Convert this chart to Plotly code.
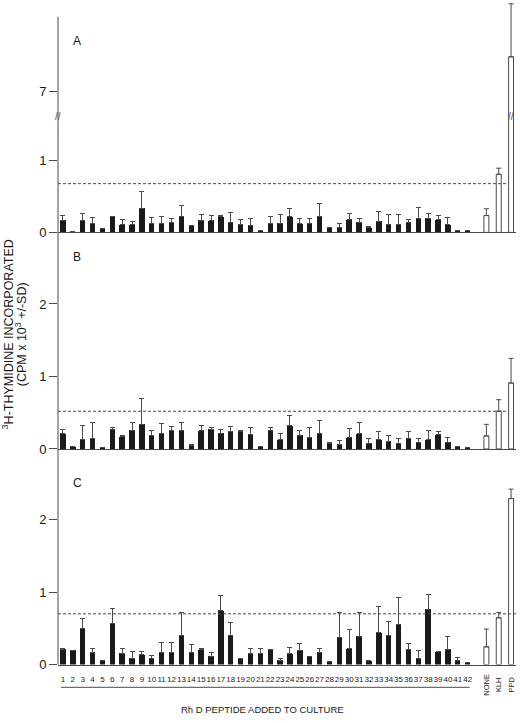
import plotly.graph_objects as go

# ---------------- data ----------------
peptides = [str(i) for i in range(1, 43)]
controls = ["NONE", "KLH", "PPD"]

A_vals = [0.17, 0.01, 0.17, 0.13, 0.06, 0.215, 0.11, 0.11, 0.34, 0.12,
          0.12, 0.14, 0.215, 0.10, 0.17, 0.165, 0.215, 0.14, 0.105, 0.095,
          0.03, 0.13, 0.13, 0.22, 0.12, 0.12, 0.22, 0.065, 0.075, 0.175,
          0.145, 0.065, 0.155, 0.11, 0.11, 0.14, 0.20, 0.20, 0.175, 0.105,
          0.02, 0.025]
A_sd = [0.07, 0.0, 0.10, 0.08, 0.0, 0.01, 0.07, 0.04, 0.23, 0.09,
        0.10, 0.05, 0.165, 0.0, 0.08, 0.075, 0.015, 0.135, 0.075, 0.095,
        0.0, 0.095, 0.12, 0.11, 0.07, 0.08, 0.19, 0.0, 0.045, 0.095,
        0.045, 0.015, 0.135, 0.14, 0.14, 0.035, 0.15, 0.06, 0.055, 0.105,
        0.0, 0.0]
A_ctrl = [0.235, 0.81, 9.0]
A_ctrl_sd = [0.095, 0.085, 3.1]
A_thr = 0.68

B_vals = [0.21, 0.03, 0.13, 0.14, 0.02, 0.27, 0.17, 0.26, 0.34, 0.19,
          0.22, 0.25, 0.26, 0.05, 0.25, 0.27, 0.22, 0.24, 0.24, 0.20,
          0.04, 0.25, 0.13, 0.32, 0.19, 0.16, 0.21, 0.08, 0.06, 0.155,
          0.21, 0.08, 0.13, 0.105, 0.07, 0.14, 0.09, 0.13, 0.195, 0.09,
          0.03, 0.02]
B_sd = [0.06, 0.0, 0.19, 0.22, 0.0, 0.03, 0.02, 0.10, 0.36, 0.06,
        0.13, 0.06, 0.10, 0.015, 0.08, 0.02, 0.05, 0.07, 0.01, 0.09,
        0.0, 0.04, 0.08, 0.14, 0.07, 0.14, 0.18, 0.005, 0.05, 0.125,
        0.16, 0.06, 0.115, 0.085, 0.07, 0.10, 0.06, 0.125, 0.045, 0.065,
        0.0, 0.0]
B_ctrl = [0.18, 0.52, 0.91]
B_ctrl_sd = [0.16, 0.16, 0.34]
B_thr = 0.52

C_vals = [0.21, 0.195, 0.50, 0.16, 0.05, 0.57, 0.155, 0.09, 0.135, 0.085,
          0.165, 0.165, 0.40, 0.17, 0.205, 0.115, 0.74, 0.40, 0.09, 0.15,
          0.15, 0.205, 0.06, 0.15, 0.195, 0.105, 0.17, 0.04, 0.37, 0.22,
          0.39, 0.05, 0.44, 0.40, 0.55, 0.21, 0.09, 0.76, 0.18, 0.21,
          0.06, 0.03]
C_sd = [0.01, 0.005, 0.13, 0.06, 0.0, 0.20, 0.065, 0.09, 0.045, 0.035,
        0.135, 0.135, 0.32, 0.11, 0.01, 0.05, 0.215, 0.18, 0.0, 0.07,
        0.07, 0.005, 0.025, 0.08, 0.10, 0.0, 0.05, 0.0, 0.35, 0.26,
        0.33, 0.0, 0.36, 0.19, 0.37, 0.08, 0.11, 0.20, 0.0, 0.18,
        0.035, 0.0]
C_ctrl = [0.245, 0.645, 2.29]
C_ctrl_sd = [0.245, 0.075, 0.13]
C_thr = 0.70

# ---------------- layout helpers ----------------
W, H = 520, 723
def py(px):
    return 1 - px / H
def pxx(px):
    return px / W

n = len(peptides)
pep_x = list(range(1, n + 1))
ctrl_x = [n + 1.9 + 1.25 * i for i in range(len(controls))]
XR = [0.5, 46.9]
XDOM = [pxx(58), pxx(516)]

FONT = "Arial, Liberation Sans, Helvetica, sans-serif"
INK = "#1a1a1a"
GREY = "#4a4a4a"

fig = go.Figure()

def add_panel(vals, sd, cvals, csd, xa, ya):
    fig.add_trace(go.Bar(
        x=pep_x, y=vals, width=0.55, xaxis=xa, yaxis=ya,
        marker=dict(color=INK, line=dict(width=0)),
        error_y=dict(type="data", array=sd, arrayminus=[0] * len(sd),
                     symmetric=False, thickness=1, width=2.5, color=GREY),
        showlegend=False, hoverinfo="skip"))
    fig.add_trace(go.Bar(
        x=ctrl_x, y=cvals, width=0.5, xaxis=xa, yaxis=ya,
        marker=dict(color="white", line=dict(width=1, color=GREY)),
        error_y=dict(type="data", array=csd, arrayminus=[0] * len(csd),
                     symmetric=False, thickness=1, width=2.5, color=GREY),
        showlegend=False, hoverinfo="skip"))

# C -> x/y, B -> x2/y2, A lower -> x3/y3, A upper -> x4/y4
add_panel(C_vals, C_sd, C_ctrl, C_ctrl_sd, "x", "y")
add_panel(B_vals, B_sd, B_ctrl, B_ctrl_sd, "x2", "y2")
add_panel(A_vals, A_sd, A_ctrl, A_ctrl_sd, "x3", "y3")
add_panel(A_vals, A_sd, A_ctrl, A_ctrl_sd, "x4", "y4")

def xax(anchor, show_labels, show_line):
    d = dict(domain=XDOM, range=XR, anchor=anchor, showgrid=False,
             zeroline=False, showline=show_line, linecolor=GREY, linewidth=1,
             ticks="", fixedrange=True)
    if show_labels:
        d.update(tickmode="array", tickvals=pep_x, ticktext=peptides,
                 tickangle=0,
                 tickfont=dict(family=FONT, size=8, color=INK),
                 ticklabelstandoff=7)
    else:
        d.update(showticklabels=False)
    return d

def yax(anchor, dom_px, rng, tickvals):
    return dict(domain=[py(dom_px[1]), py(dom_px[0])], range=rng, anchor=anchor,
                showgrid=False, zeroline=False, showline=False,
                tickmode="array", tickvals=tickvals,
                ticks="outside", ticklen=8, tickcolor=GREY, tickwidth=1,
                tickfont=dict(family=FONT, size=13, color=INK), fixedrange=True)

U = 73.3  # px per unit
fig.update_layout(
    width=W, height=H, margin=dict(l=0, r=0, t=0, b=0),
    paper_bgcolor="white", plot_bgcolor="white", bargap=0,
    xaxis=xax("y", True, True),
    xaxis2=xax("y2", False, True),
    xaxis3=xax("y3", False, True),
    xaxis4=xax("y4", False, False),
    yaxis=yax("x", (455, 672), [0, 217 / U], [0, 1, 2]),
    yaxis2=yax("x2", (236, 454), [0, 218 / U], [0, 1, 2]),
    yaxis3=yax("x3", (118, 235), [0, 117 / 72.5], [0, 1]),
    yaxis4=yax("x4", (3, 118), [5.5, 12.15], [7]),
)

# continuous vertical axis line
fig.add_shape(type="line", xref="paper", yref="paper",
              x0=pxx(58), x1=pxx(58), y0=py(672), y1=py(17),
              line=dict(color=GREY, width=1))

# dashed threshold lines
ppd_left = (ctrl_x[2] - 0.25 - XR[0]) / (XR[1] - XR[0])
for thr, xr, yr, x1 in [(A_thr, "x3", "y3", ppd_left),
                        (B_thr, "x2", "y2", ppd_left),
                        (C_thr, "x", "y", 1.0)]:
    fig.add_shape(type="line", xref=xr + " domain", yref=yr,
                  x0=0, x1=x1, y0=thr, y1=thr,
                  line=dict(color=GREY, width=1, dash="3px,2px"))

# underline below peptide numbers
fig.add_shape(type="line", xref="x", yref="paper",
              x0=pep_x[0] - 0.2, x1=pep_x[-1] + 0.2, y0=py(695), y1=py(695),
              line=dict(color=GREY, width=1))

ann = []
# axis break marks
for xr, xv in [("paper", pxx(58)), ("x3", ctrl_x[2])]:
    ann.append(dict(xref=xr, yref="paper", x=xv, y=py(118), text="//",
                    showarrow=False, font=dict(family=FONT, size=10, color=GREY),
                    xanchor="center", yanchor="middle"))
# panel letters
for lab, ypx in [("A", 41), ("B", 260), ("C", 488)]:
    ann.append(dict(xref="paper", yref="paper", x=pxx(77), y=py(ypx), text=lab,
                    showarrow=False, font=dict(family=FONT, size=12, color=INK),
                    xanchor="center", yanchor="middle"))
# control labels (vertical)
for lab, xv in zip(controls, ctrl_x):
    ann.append(dict(xref="x", yref="paper", x=xv, y=py(692), text=lab,
                    textangle=-90, showarrow=False,
                    font=dict(family=FONT, size=7.5, color=INK),
                    xanchor="center", yanchor="middle"))
# x title
ann.append(dict(xref="paper", yref="paper", x=pxx(262), y=py(717),
                text="Rh D PEPTIDE ADDED TO CULTURE", showarrow=False,
                font=dict(family=FONT, size=9.5, color=INK),
                xanchor="center", yanchor="middle"))
# y title (two lines)
ann.append(dict(xref="paper", yref="paper", x=pxx(8), y=py(338),
                text="<sup>3</sup>H-THYMIDINE INCORPORATED", textangle=-90,
                showarrow=False, font=dict(family=FONT, size=12.5, color=INK),
                xanchor="center", yanchor="middle"))
ann.append(dict(xref="paper", yref="paper", x=pxx(21), y=py(338),
                text="(CPM x 10<sup>3</sup> +/-SD)", textangle=-90,
                showarrow=False, font=dict(family=FONT, size=12.5, color=INK),
                xanchor="center", yanchor="middle"))
fig.update_layout(annotations=ann)

fig.write_html("out.html",
               config={"displayModeBar": False, "staticPlot": True},
               post_script="document.body.style.margin='0px';"
                           "document.body.style.overflow='hidden';")
